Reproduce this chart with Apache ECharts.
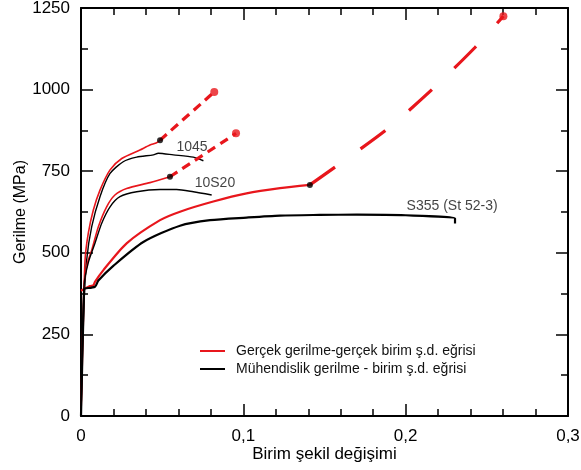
<!DOCTYPE html>
<html>
<head>
<meta charset="utf-8">
<script src="https://cdn.jsdelivr.net/npm/echarts@6/dist/echarts.min.js"></script>
<style>
  html, body { margin: 0; padding: 0; background: #fff; }
  #chart { width: 581px; height: 470px; }
</style>
</head>
<body>
<div id="chart"></div>
<script>
const FONT = '"Liberation Sans", Arial, sans-serif'
const RED = '#e8161c'
const BLACK = '#000000'
const TRUE_NAME = 'Gerçek gerilme-gerçek birim ş.d. eğrisi'
const ENG_NAME = 'Mühendislik gerilme - birim ş.d. eğrisi'

// [strain, stress MPa]
const true1045 = [[0, 0], [0.0015, 300], [0.0025, 478], [0.0045, 560], [0.0076, 631], [0.0117, 692], [0.0179, 754], [0.0251, 789], [0.0363, 815], [0.0425, 830], [0.0466, 837], [0.0487, 845]]
const eng1045 = [[0, 0], [0.0015, 300], [0.0035, 478], [0.0066, 580], [0.0117, 672], [0.0179, 743], [0.026, 779], [0.0343, 793], [0.0446, 800], [0.0476, 805], [0.0569, 800], [0.0692, 793], [0.0754, 782]]
const dash1045 = [[0.0487, 845], [0.0821, 993]]

const true10S20 = [[0, 0], [0.0019, 400], [0.004, 470], [0.0066, 508], [0.0107, 580], [0.0158, 641], [0.0209, 677], [0.0281, 697], [0.0425, 715], [0.0548, 733]]
const eng10S20 = [[0, 0], [0.0019, 400], [0.0045, 470], [0.0086, 529], [0.0127, 590], [0.0179, 641], [0.024, 672], [0.0343, 687], [0.0487, 694], [0.0589, 694], [0.0692, 687], [0.0805, 677]]
const dash10S20 = [[0.0548, 733], [0.0955, 866]]

const trueS355 = [[0, 384], [0.0055, 398], [0.0076, 400], [0.0086, 411], [0.0138, 447], [0.0281, 529], [0.0487, 600], [0.061, 626], [0.0815, 657], [0.102, 682], [0.1226, 698], [0.141, 708]]
const engS355 = [[0, 0], [0.0019, 390], [0.0025, 391], [0.0086, 396], [0.0107, 415], [0.0199, 460], [0.0384, 533], [0.061, 583], [0.0795, 600], [0.102, 608], [0.1226, 614], [0.147, 616], [0.17, 617], [0.2, 615], [0.2304, 605], [0.2304, 590]]
const dashS355 = [[0.141, 708], [0.1873, 874], [0.216, 999], [0.2427, 1129], [0.2602, 1225]]

const necking = [[0.0487, 845], [0.0548, 733], [0.141, 708]]
const fracture = [[0.0821, 993], [0.0955, 866], [0.2602, 1225]]

const curveLabels = [
  { name: '1045', value: [0.0684, 824] },
  { name: '10S20', value: [0.0825, 714] },
  { name: 'S355 (St 52-3)', value: [0.2286, 643] }
]

const xTicks = ['0', '0,1', '0,2', '0,3']

function solid(name, data, color, width) {
  return {
    name, type: 'line', data, showSymbol: false, smooth: 0.25,
    lineStyle: { color, width, join: 'round' }, itemStyle: { color }, animation: false, z: 3
  }
}

function dashed(data, dash) {
  return {
    type: 'line', data, showSymbol: false, smooth: 0.25,
    lineStyle: { color: RED, width: 3.2, type: dash, cap: 'butt' }, animation: false, z: 3
  }
}

function axisCommon(show) {
  return {
    axisLine: { show: true, onZero: false, lineStyle: { color: BLACK, width: 2 } },
    axisTick: { show: true, inside: true, length: 12, lineStyle: { color: BLACK, width: 1.5 } },
    splitLine: { show: false },
    axisLabel: { show }
  }
}

const chart = echarts.init(document.getElementById('chart'), null, { renderer: 'canvas' })

chart.setOption({
  backgroundColor: '#ffffff',
  animation: false,
  textStyle: { fontFamily: FONT },
  grid: { left: 81, right: 13, top: 8, bottom: 54, containLabel: false, outerBoundsMode: 'none' },
  legend: {
    left: 195, top: 339, orient: 'vertical',
    icon: 'rect', itemWidth: 25, itemHeight: 2, itemGap: 4,
    data: [TRUE_NAME, ENG_NAME],
    textStyle: { fontFamily: FONT, fontSize: 14, color: '#111', padding: [0, 0, 0, 6] },
    selectedMode: false
  },
  xAxis: [
    {
      ...axisCommon(true), type: 'value', position: 'bottom', min: 0, max: 0.3, interval: 0.1,
      minorTick: { show: true, splitNumber: 5, length: 7, lineStyle: { color: BLACK, width: 1.5 } },
      axisLabel: {
        show: true, margin: 12, fontSize: 17, color: BLACK, fontFamily: FONT,
        formatter: (v) => xTicks[Math.round(v * 10)]
      },
      name: 'Birim şekil değişimi', nameLocation: 'middle', nameGap: 30, nameMoveOverlap: false,
      nameTextStyle: { fontSize: 17, color: BLACK, fontFamily: FONT }
    },
    {
      ...axisCommon(false), type: 'value', position: 'top', min: 0, max: 0.3, interval: 0.1,
      minorTick: { show: true, splitNumber: 5, length: 7, lineStyle: { color: BLACK, width: 1.5 } }
    }
  ],
  yAxis: [
    {
      ...axisCommon(true), type: 'value', position: 'left', min: 0, max: 1250, interval: 250,
      minorTick: { show: true, splitNumber: 2, length: 7, lineStyle: { color: BLACK, width: 1.5 } },
      axisLabel: {
        show: true, margin: 11, fontSize: 17, color: BLACK, fontFamily: FONT,
        formatter: (v) => String(v)
      },
      name: 'Gerilme (MPa)', nameLocation: 'middle', nameGap: 52, nameMoveOverlap: false,
      nameTextStyle: { fontSize: 16, color: BLACK, fontFamily: FONT }
    },
    {
      ...axisCommon(false), type: 'value', position: 'right', min: 0, max: 1250, interval: 250,
      minorTick: { show: true, splitNumber: 2, length: 7, lineStyle: { color: BLACK, width: 1.5 } }
    }
  ],
  series: [
    solid(TRUE_NAME, true1045, RED, 1.6),
    solid(ENG_NAME, eng1045, BLACK, 1.4),
    solid(TRUE_NAME, true10S20, RED, 1.6),
    solid(ENG_NAME, eng10S20, BLACK, 1.4),
    solid(TRUE_NAME, trueS355, RED, 2.2),
    solid(ENG_NAME, engS355, BLACK, 2.2),
    dashed(dash1045, [9, 6]),
    dashed(dash10S20, [9, 6]),
    dashed(dashS355, [31, 31]),
    {
      type: 'scatter', data: necking, symbolSize: 6, itemStyle: { color: BLACK }, z: 5, animation: false
    },
    {
      type: 'scatter', data: fracture, symbolSize: 8, itemStyle: { color: RED }, z: 5, animation: false
    },
    {
      type: 'scatter', data: curveLabels, symbolSize: 0, animation: false, silent: true,
      label: {
        show: true, position: 'inside', formatter: (p) => p.name,
        fontSize: 14, color: '#111', fontFamily: FONT
      }
    }
  ]
})
</script>
</body>
</html>
